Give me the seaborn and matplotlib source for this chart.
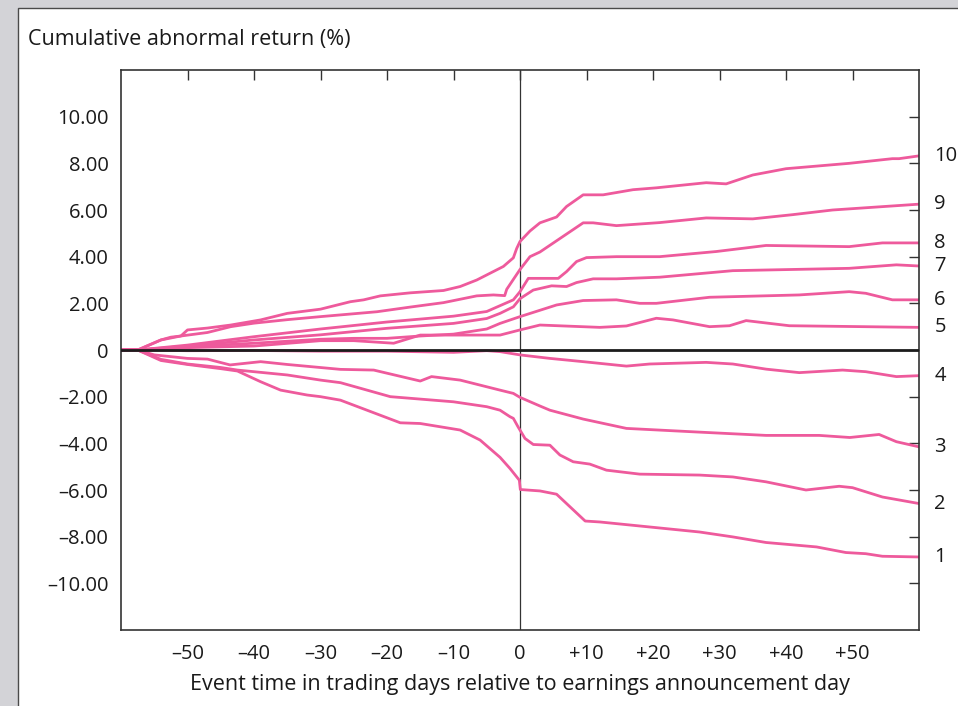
import numpy as np
import pandas as pd
import matplotlib
matplotlib.use("Agg")
import matplotlib.pyplot as plt
from matplotlib.patches import Rectangle
import seaborn as sns

# ---------------- data ----------------
deciles = ["1", "2", "3", "4", "5", "6", "7", "8", "9", "10"]

t10 = [-60, -57.5, -54, -52.5, -51, -50, -47, -43.5, -39, -35, -30, -25.5, -23.5, -21, -16.5, -11.5, -9, -6.5, -2.5, -1, -0.5, 0, 1.5, 3, 5.5, 7, 9.5, 12.5, 17, 20.5, 28, 31, 35, 40, 49.5, 56, 57, 60]
v10 = [0, 0, 0.43, 0.55, 0.6, 0.86, 0.94, 1.07, 1.29, 1.57, 1.75, 2.07, 2.15, 2.32, 2.45, 2.55, 2.72, 3.0, 3.58, 3.95, 4.35, 4.65, 5.1, 5.45, 5.7, 6.15, 6.65, 6.65, 6.87, 6.95, 7.17, 7.12, 7.5, 7.77, 8.0, 8.2, 8.2, 8.32]

t9 = [-60, -57.5, -54, -51, -47, -43.5, -40, -35, -30, -21.5, -16.5, -11.5, -6.5, -4, -2.3, -2, 0, 1.5, 3, 9.5, 11, 14.5, 21, 28, 35, 41, 47, 60]
v9 = [0, 0, 0.43, 0.6, 0.75, 1.0, 1.15, 1.3, 1.43, 1.64, 1.84, 2.03, 2.32, 2.36, 2.33, 2.6, 3.45, 4.0, 4.2, 5.45, 5.45, 5.33, 5.46, 5.66, 5.62, 5.8, 6.0, 6.25]

t8 = [-60, -57.5, -50, -40, -30, -20, -10, -5, -3, -1, 0, 1.25, 5.75, 7, 8.5, 10, 14.5, 21, 29.5, 37, 49.5, 54.5, 60]
v8 = [0, 0, 0.21, 0.57, 0.9, 1.2, 1.45, 1.65, 1.9, 2.15, 2.5, 3.07, 3.07, 3.36, 3.79, 3.96, 4.0, 4.0, 4.22, 4.48, 4.43, 4.59, 4.59]

t7 = [-60, -57.5, -50, -40, -30, -20, -10, -5, -3, -1, 0, 2, 4.75, 7, 8.5, 11, 14.5, 21, 32, 49.5, 56.6, 60]
v7 = [0, 0, 0.17, 0.43, 0.65, 0.93, 1.14, 1.35, 1.57, 1.85, 2.2, 2.57, 2.75, 2.72, 2.89, 3.05, 3.05, 3.12, 3.4, 3.5, 3.65, 3.6]

t6 = [-60, -57.5, -50, -40, -30, -25, -20, -15, -10, -5, -3, 0, 5.5, 9.5, 14.5, 18, 20.5, 28.5, 42, 49.5, 52, 56, 60]
v6 = [0, 0, 0.14, 0.29, 0.46, 0.5, 0.5, 0.6, 0.68, 0.9, 1.14, 1.43, 1.93, 2.12, 2.15, 2.0, 2.0, 2.26, 2.36, 2.5, 2.43, 2.15, 2.15]

t5 = [-60, -57.5, -50, -40, -30, -25, -19, -15, -10, -5, -3, 0, 3, 12, 16, 20.5, 23, 28.5, 31.5, 34, 40.5, 60]
v5 = [0, 0, 0.1, 0.17, 0.4, 0.4, 0.29, 0.64, 0.64, 0.64, 0.64, 0.86, 1.07, 0.97, 1.03, 1.36, 1.29, 1.0, 1.04, 1.26, 1.04, 0.97]

t4 = [-60, -57.5, -50, -40, -30, -20, -10, -5, -3, 0, 4.5, 9.5, 16, 19.5, 28, 32, 37, 42, 48.5, 52, 56.6, 60]
v4 = [0, 0, -0.03, -0.02, -0.05, -0.05, -0.1, -0.03, -0.07, -0.21, -0.36, -0.5, -0.69, -0.6, -0.53, -0.6, -0.82, -0.97, -0.86, -0.93, -1.14, -1.1]

t3 = [-60, -57.5, -55, -50, -47, -43.6, -39, -35, -27, -22, -15, -13.3, -9, -3, -1, 0, 3, 4.5, 9.5, 16, 27, 37, 45, 49.6, 54, 56.6, 60]
v3 = [0, 0, -0.21, -0.36, -0.39, -0.64, -0.5, -0.62, -0.83, -0.86, -1.33, -1.14, -1.29, -1.72, -1.86, -2.03, -2.4, -2.58, -2.96, -3.36, -3.52, -3.66, -3.66, -3.75, -3.62, -3.93, -4.15]

t2 = [-60, -57.5, -54, -50, -45, -42.5, -35, -30, -27, -19.5, -10, -5, -3, -1.5, -1, -0.3, 0.75, 2, 4.5, 6, 8, 10.5, 13, 18, 27, 32, 37, 43, 48, 50, 54.5, 60]
v2 = [0, 0, -0.4, -0.6, -0.75, -0.86, -1.07, -1.29, -1.4, -2.0, -2.22, -2.43, -2.58, -2.86, -2.93, -3.29, -3.79, -4.05, -4.08, -4.5, -4.79, -4.89, -5.15, -5.32, -5.36, -5.44, -5.65, -6.0, -5.84, -5.9, -6.3, -6.58]

t1 = [-60, -57.5, -54, -50, -45, -42.5, -39, -36, -32, -30, -27, -18, -15, -9, -6, -3, -1.5, -0.1, 0.05, 3, 5.5, 9.8, 12, 27, 32, 37, 44.6, 49, 52, 54.5, 60]
v1 = [0, 0, -0.45, -0.62, -0.8, -0.9, -1.36, -1.72, -1.93, -2.0, -2.15, -3.12, -3.15, -3.43, -3.86, -4.6, -5.08, -5.58, -5.98, -6.04, -6.18, -7.33, -7.37, -7.8, -8.01, -8.25, -8.44, -8.68, -8.73, -8.84, -8.87]

series_t = [t1, t2, t3, t4, t5, t6, t7, t8, t9, t10]
series_v = [v1, v2, v3, v4, v5, v6, v7, v8, v9, v10]

x_ticks = [-50, -40, -30, -20, -10, 0, 10, 20, 30, 40, 50]
x_ticklabels = ["\u201350", "\u201340", "\u201330", "\u201320", "\u201310", "0",
                "+10", "+20", "+30", "+40", "+50"]
y_ticks = [-10, -8, -6, -4, -2, 0, 2, 4, 6, 8, 10]
y_ticklabels = ["\u201310.00", "\u20138.00", "\u20136.00", "\u20134.00", "\u20132.00", "0",
                "2.00", "4.00", "6.00", "8.00", "10.00"]

y_title = "Cumulative abnormal return (%)"
x_title = "Event time in trading days relative to earnings announcement day"

# ---------------- build long table ----------------
frames = []
for name, tt, vv in zip(deciles, series_t, series_v):
    frames.append(pd.DataFrame({"t": tt, "v": vv, "decile": name}))
df = pd.concat(frames, ignore_index=True)

# ---------------- styling ----------------
sns.set_theme(style="white")
plt.rcParams["font.family"] = ["Open Sans", "DejaVu Sans"]

PINK = "#EE5A9C"
TEXT = "#1a1a1a"
FS = 14.5
FS_TITLE = 15.5

fig = plt.figure(figsize=(9.58, 7.06), dpi=100)
fig.patch.set_facecolor("#D3D3D7")
panel = Rectangle((17.5 / 958, -0.2), 1.5, 0.2 + 1 - 7.5 / 706,
                  transform=fig.transFigure, facecolor="white",
                  edgecolor="#4a4a4a", lw=1.0, zorder=-5)
fig.patches.append(panel)

ax = fig.add_axes([121 / 958, 1 - 630 / 706, (919 - 121) / 958, (630 - 70) / 706])
ax.set_zorder(2)
ax.set_facecolor("white")

sns.lineplot(data=df, x="t", y="v", hue="decile", palette=[PINK] * 10,
             estimator=None, sort=False, lw=2.0, legend=False, ax=ax, zorder=2)

ax.axhline(0, color="#1c1c1c", lw=2.0, zorder=3)
ax.axvline(0, color="#333333", lw=0.9, zorder=1)

ax.set_xlim(-60, 60)
ax.set_ylim(-12, 12)
ax.set_xticks(x_ticks)
ax.set_xticklabels(x_ticklabels)
ax.set_yticks(y_ticks)
ax.set_yticklabels(y_ticklabels)
ax.tick_params(axis="both", direction="in", length=7, width=1.0, color="#333333",
               top=True, right=True, labeltop=False, labelright=False,
               labelsize=FS, labelcolor=TEXT)
ax.tick_params(axis="y", pad=9)
ax.tick_params(axis="x", pad=10)
for sp in ax.spines.values():
    sp.set_visible(True)
    sp.set_color("#333333")
    sp.set_linewidth(1.2)

ax.set_xlabel(x_title, fontsize=FS_TITLE, color=TEXT, labelpad=7)
ax.set_ylabel("")
fig.text(28 / 958, 1 - 40 / 706, y_title, fontsize=FS_TITLE, color=TEXT,
         ha="left", va="center")

for name, vv in zip(deciles, series_v):
    ax.annotate(name, xy=(1, vv[-1]), xycoords=ax.get_yaxis_transform(),
                xytext=(11, 0), textcoords="offset points",
                ha="left", va="center", fontsize=FS, color=TEXT,
                annotation_clip=False)

fig.savefig("out.png", dpi=100, facecolor=fig.get_facecolor())
